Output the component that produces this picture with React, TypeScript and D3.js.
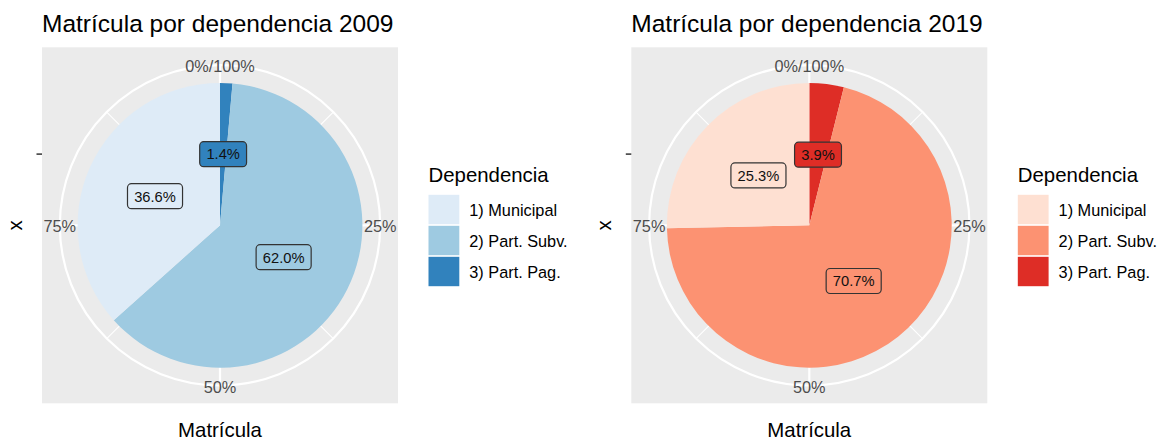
import React from "react";
import * as d3 from "d3";

const categories = ["1) Municipal", "2) Part. Subv.", "3) Part. Pag."];
const values2009 = [36.6, 62.0, 1.4];
const values2019 = [25.3, 70.7, 3.9];
const blues = ["#DEEBF7", "#9ECAE1", "#3182BD"];
const reds = ["#FEE0D2", "#FC9272", "#DE2D26"];
const thetaBreaks = [0, 0.25, 0.5, 0.75];
const thetaLabels = ["0%/100%", "25%", "50%", "75%"];
const thetaMinor = [0.125, 0.375, 0.625, 0.875];
const titles = ["Matrícula por dependencia 2009", "Matrícula por dependencia 2019"];
const legendTitle = "Dependencia";
const xTitle = "Matrícula";
const yTitle = "x";

const FONT = "'Liberation Sans', Arial, Helvetica, sans-serif";
const LABEL_FS = 14.7;

let ctx: CanvasRenderingContext2D | null = null;
function textWidth(s: string, fs: number) {
  if (!ctx) {
    const c = document.createElement("canvas");
    ctx = c.getContext("2d");
  }
  if (!ctx) return s.length * fs * 0.55;
  ctx.font = `${fs}px ${FONT}`;
  return ctx.measureText(s).width;
}

function Panel({ ox, title, values, colors }: { ox: number; title: string; values: number[]; colors: string[] }) {
  const P = 356;
  const left = 42 + ox;
  const top = 47.3;
  const cx = left + P / 2;
  const cy = top + P / 2;
  const rScale = d3.scaleLinear().domain([0.5, 1.5]).range([0, 0.4 * P]);
  const tScale = d3.scaleLinear().domain([0, 1]).range([0, 2 * Math.PI]);
  const outerR = 0.45 * P;
  const order = [2, 1, 0];
  const pie = d3.pie<number>().sort(null).value((i) => values[i]);
  const arcs = pie(order);
  const arc = d3.arc<d3.PieArcDatum<number>>().innerRadius(rScale(0.5)).outerRadius(rScale(1.5));
  const labelArc = d3.arc<d3.PieArcDatum<number>>().innerRadius(rScale(1)).outerRadius(rScale(1));
  const pt = (t: number, r: number) => [cx + r * Math.sin(tScale(t)), cy - r * Math.cos(tScale(t))];

  const legX = 428.5 + ox;
  const keyTop = 194.8;
  const pitch = 31;

  return (
    <g fontFamily={FONT}>
      <text x={42 + ox} y={32} fontSize={24.5} fill="#000">{title}</text>
      <rect x={left} y={top} width={P} height={P} fill="#EBEBEB" />
      {thetaMinor.map((t, i) => {
        const [x, y] = pt(t, outerR);
        return <line key={"mi" + i} x1={cx} y1={cy} x2={x} y2={y} stroke="#fff" strokeWidth={1.1} />;
      })}
      {thetaBreaks.map((t, i) => {
        const [x, y] = pt(t, outerR);
        return <line key={"ma" + i} x1={cx} y1={cy} x2={x} y2={y} stroke="#fff" strokeWidth={2.2} />;
      })}
      <circle cx={cx} cy={cy} r={outerR} fill="none" stroke="#fff" strokeWidth={2.2} />
      <g transform={`translate(${cx},${cy})`}>
        {arcs.map((a) => (
          <path key={a.data} d={arc(a) || ""} fill={colors[a.data]} />
        ))}
      </g>
      {thetaBreaks.map((t, i) => {
        const [x, y] = pt(t, outerR);
        return (
          <text key={"tl" + i} x={x} y={y + 1} fontSize={16.3} fill="#4D4D4D" textAnchor="middle" dominantBaseline="central">
            {thetaLabels[i]}
          </text>
        );
      })}
      {arcs.map((a) => {
        const [lx, ly] = labelArc.centroid(a);
        const s = values[a.data].toFixed(1) + "%";
        const w = textWidth(s, LABEL_FS) + 13.4;
        const h = 25;
        return (
          <g key={"lb" + a.data} transform={`translate(${cx + lx},${cy + ly})`}>
            <rect x={-w / 2} y={-h / 2} width={w} height={h} rx={4} ry={4} fill={colors[a.data]} stroke="#333" strokeWidth={1.2} />
            <text x={0} y={LABEL_FS * 0.36} fontSize={LABEL_FS} textAnchor="middle" fill="#111">{s}</text>
          </g>
        );
      })}
      {/* radial axis tick */}
      <line x1={left - 5.5} x2={left} y1={cy - rScale(1)} y2={cy - rScale(1)} stroke="#333" strokeWidth={1.5} />
      <text transform={`translate(${22 + ox},${cy}) rotate(-90)`} fontSize={20.4} textAnchor="middle" fill="#000">{yTitle}</text>
      <text x={cx} y={437.3} fontSize={20.4} textAnchor="middle" fill="#000">{xTitle}</text>
      {/* legend */}
      <text x={legX} y={181.8} fontSize={20.4} fill="#000">{legendTitle}</text>
      {categories.map((c, i) => (
        <g key={"lg" + i}>
          <rect x={legX} y={keyTop + i * pitch} width={30.8} height={29.4} fill={colors[i]} />
          <text x={469.3 + ox} y={keyTop + i * pitch + 14.7} fontSize={16.3} fill="#000" dominantBaseline="central">{c}</text>
        </g>
      ))}
    </g>
  );
}

export default function App() {
  return (
    <div style={{ position: "absolute", left: 0, top: 0 }}>
      <svg width={1159} height={443} style={{ display: "block", background: "#fff" }}>
        <Panel ox={0} title={titles[0]} values={values2009} colors={blues} />
        <Panel ox={589.3} title={titles[1]} values={values2019} colors={reds} />
      </svg>
    </div>
  );
}
